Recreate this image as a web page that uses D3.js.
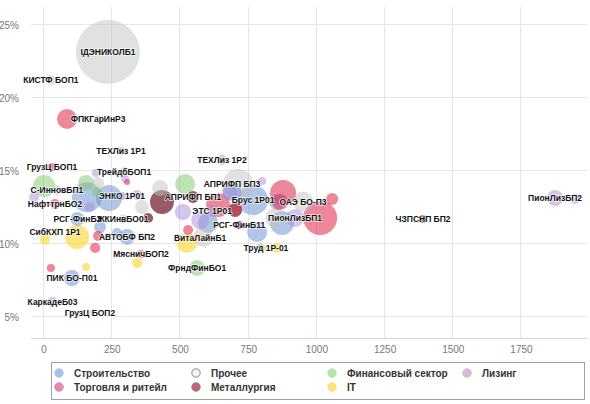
<!DOCTYPE html>
<html><head><meta charset="utf-8">
<script src="https://cdn.jsdelivr.net/npm/d3@7"></script>
<style>
body{margin:0;background:#fff;}
svg{display:block;font-family:"Liberation Sans",Arial,sans-serif;}
</style></head>
<body><div id="chart"></div>
<script>
// ---- data: x = объём (млн), y = доходность (%), z = размер пузыря ----
const xTicks = [0, 250, 500, 750, 1000, 1250, 1500, 1750];
const yTicks = [5, 10, 15, 20, 25];
const sectors = ["Строительство","Прочее","Финансовый сектор","Лизинг","Торговля и ритейл","Металлургия","IT"];

const construction = [
  {x:159,y:13.2,z:2200},{x:287,y:13.29,z:160,name:"ЭНКО 1Р01"},{x:240,y:13.15,z:1650},
  {x:124,y:11.71,z:480,name:"РСГ-ФинБ3"},{x:207,y:11.16,z:350},{x:306,y:10.48,z:625,name:"АВТОБФ БП2"},
  {x:269,y:10.75,z:250},{x:104,y:7.67,z:625,name:"ПИК БО-П01"},{x:768,y:13.0,z:2200,name:"Брус 1Р01"},
  {x:856,y:12.88,z:625},{x:603,y:11.44,z:980},{x:783,y:10.82,z:980},{x:874,y:11.44,z:1400},
  {x:794,y:9.73,z:160},{x:690,y:13.6,z:900}
];
const other = [
  {x:236,y:23.15,z:10000,name:"ІДЭНИКОЛБ1"},{x:27,y:21.23,z:250,name:"КИСТФ БОП1"},
  {x:200,y:18.56,z:160,name:"ФПКГарИнР3"},{x:295,y:14.93,z:250,name:"ТрейдбБОП1"},
  {x:49,y:13.7,z:250,name:"С-ИнновБП1"},{x:200,y:14.18,z:350},{x:427,y:13.83,z:625},
  {x:361,y:12.53,z:480},{x:713,y:14.11,z:2200},{x:849,y:11.78,z:980},{x:585,y:10.48,z:980},
  {x:951,y:12.9,z:980,name:"ОАЭ БО-П3"},{x:290,y:11.71,z:200,name:"ЖКИнвБО01"},
  {x:170,y:5.27,z:90,name:"ГрузЦ БОП2"}
];
const finance = [
  {x:2,y:13.97,z:1180},{x:156,y:14.18,z:625},{x:196,y:13.56,z:250},
  {x:519,y:14.11,z:980},{x:563,y:8.35,z:625,name:"ФрндФинБО1"}
];
const leasing = [
  {x:284,y:16.37,z:160,name:"ТЕХЛиз 1Р1"},{x:192,y:14.86,z:160},{x:-35,y:13.2,z:250},
  {x:170,y:12.53,z:250},{x:343,y:13.35,z:250},{x:654,y:15.75,z:250,name:"ТЕХЛиз 1Р2"},
  {x:801,y:14.31,z:160},{x:684,y:13.49,z:480},{x:574,y:11.64,z:790},{x:511,y:12.19,z:640},
  {x:922,y:11.78,z:790,name:"ПионЛизБП1"},{x:1875,y:13.15,z:625,name:"ПионЛизБП2"},
  {x:1948,y:13.08,z:250},{x:33,y:6.03,z:250,name:"КаркадеБ03"},{x:299,y:14.45,z:160},
  {x:618,y:12.26,z:350,name:"ЭТС 1Р01"}
];
const trade = [
  {x:86,y:18.56,z:980},{x:31,y:15.27,z:160,name:"ГрузЦ БОП1"},{x:42,y:12.74,z:250,name:"НафттрнБО2"},
  {x:306,y:14.24,z:90},{x:200,y:10.55,z:250},{x:189,y:9.73,z:250},{x:357,y:9.31,z:160,name:"МясничБОП2"},
  {x:530,y:10.96,z:250},{x:27,y:8.35,z:160},{x:640,y:12.67,z:1400},{x:709,y:12.33,z:250},
  {x:878,y:13.49,z:1650},{x:867,y:12.88,z:625},{x:1058,y:13.08,z:350},{x:1014,y:11.78,z:2820}
];
const metals = [
  {x:434,y:12.88,z:1400},{x:383,y:11.78,z:250},{x:548,y:13.22,z:350,name:"АПРИФП БП1"},
  {x:702,y:12.33,z:480},{x:717,y:11.3,z:160,name:"РСГ-ФинБ11"},{x:1391,y:11.71,z:160,name:"ЧЗПСНП БП2"}
];
const it = [
  {x:42,y:10.82,z:160,name:"СибКХП 1Р1"},{x:5,y:10.3,z:250},{x:123,y:10.48,z:1400},
  {x:343,y:8.7,z:250},{x:156,y:8.42,z:160},{x:526,y:10.07,z:980},{x:574,y:10.41,z:120,name:"ВитаЛайнБ1"},
  {x:856,y:9.73,z:250},{x:815,y:9.73,z:90,name:"Труд 1Р-01"}
];
const extraLabels = [{x:691,y:14.11,name:"АПРИФП БП3"}];

// ---- styles ----
const fills = ["rgb(100,140,212)","rgb(195,195,195)","rgb(125,200,105)","rgb(170,140,222)","rgb(225,55,85)","rgb(110,28,40)","rgb(255,212,40)"];
const opac  = [0.5,0.5,0.5,0.5,0.6,0.72,0.6];
const legendFill = ["#a9c2ea","#f4f4f4","#b8e4aa","#cdbfe8","#e98a9d","#b86b76","#fde27c"];
const legendStroke = ["#a9c2ea","#8a8a8a","#b8e4aa","#f0b48a","#b98ad0","#b86b76","#fde27c"];
const seriesData = [construction, other, finance, leasing, trade, metals, it];

const W = 590, H = 404;
const svg = d3.select("#chart").append("svg").attr("width", W).attr("height", H);
const x = d3.scaleLinear().domain([-46, 1992]).range([31, 587]);
const y = d3.scaleLinear().domain([3.56, 26.23]).range([338, 7]);
const r = d3.scaleSqrt().domain([0, 10000]).range([0, 32]);

// grid
const g = svg.append("g");
g.selectAll(".vg").data(xTicks).join("line")
  .attr("x1", d => x(d)).attr("x2", d => x(d)).attr("y1", 7).attr("y2", 338)
  .attr("stroke", "#e6e6e6").attr("stroke-width", 1).attr("shape-rendering","crispEdges");
g.selectAll(".hg").data(yTicks).join("line")
  .attr("x1", 31).attr("x2", 587).attr("y1", d => y(d)).attr("y2", d => y(d))
  .attr("stroke", "#e6e6e6").attr("stroke-width", 1).attr("shape-rendering","crispEdges");

// axes
const xAxis = d3.axisBottom(x).tickValues(xTicks).tickSize(0).tickPadding(8).tickFormat(d => String(d));
const xg = svg.append("g").attr("transform", "translate(0,338)").call(xAxis);
xg.select(".domain").attr("stroke", "#ccd6eb").attr("d", "M31,0.5H587");
xg.selectAll("text").attr("fill", "#777").style("font-size", "10px").style("font-family","Liberation Sans,Arial");
const yAxis = d3.axisLeft(y).tickValues(yTicks).tickSize(0).tickPadding(12).tickFormat(d => d + "%");
const yg = svg.append("g").attr("transform", "translate(31,0)").call(yAxis);
yg.select(".domain").remove();
yg.selectAll("text").attr("fill", "#777").style("font-size", "10px").style("font-family","Liberation Sans,Arial");

// bubbles
const all = [];
seriesData.forEach((arr, i) => arr.forEach(d => all.push({...d, s: i})));
const sorted = all.slice().sort((a, b) => b.z - a.z);
svg.append("g").selectAll("circle").data(sorted).join("circle")
  .attr("cx", d => x(d.x)).attr("cy", d => y(d.y)).attr("r", d => r(d.z))
  .attr("fill", d => fills[d.s]).attr("fill-opacity", d => opac[d.s]);

// labels
const labels = all.filter(d => d.name).concat(extraLabels);
const lg = svg.append("g").style("font-size", "8.5px").style("font-weight", "bold")
  .style("font-family", "'Liberation Sans Narrow','Arial Narrow','Liberation Sans',sans-serif")
  .attr("text-anchor", "middle");
lg.selectAll("text.o").data(labels).join("text")
  .attr("x", d => x(d.x)).attr("y", d => y(d.y)).attr("dy", "0.35em")
  .attr("fill", "none").attr("stroke", "#fff").attr("stroke-width", 1.5).attr("stroke-opacity", 0.8)
  .attr("stroke-linejoin","round").text(d => d.name);
lg.selectAll("text.t").data(labels).join("text")
  .attr("x", d => x(d.x)).attr("y", d => y(d.y)).attr("dy", "0.35em")
  .attr("fill", "#111").text(d => d.name);

// legend
const leg = svg.append("g");
leg.append("rect").attr("x", 51.5).attr("y", 362.5).attr("width", 533).attr("height", 37)
  .attr("fill", "#fff").attr("stroke", "#a0a0a0");
const colX = [59, 196, 332, 467];
const items = sectors.map((s, i) => ({s, i, col: i < 4 ? i : i - 4, row: i < 4 ? 0 : 1}));
const it2 = leg.selectAll("g.item").data(items).join("g")
  .attr("transform", d => `translate(${colX[d.col]},${373 + d.row * 14})`);
it2.append("circle").attr("r", 4.2).attr("fill", d => legendFill[d.i]).attr("stroke", d => legendStroke[d.i]).attr("stroke-width", 1);
it2.append("text").attr("x", 15).attr("dy", "0.35em").style("font-size", "10px").style("font-weight", "bold")
  .attr("fill", "#333").text(d => d.s);
</script>
</body></html>
